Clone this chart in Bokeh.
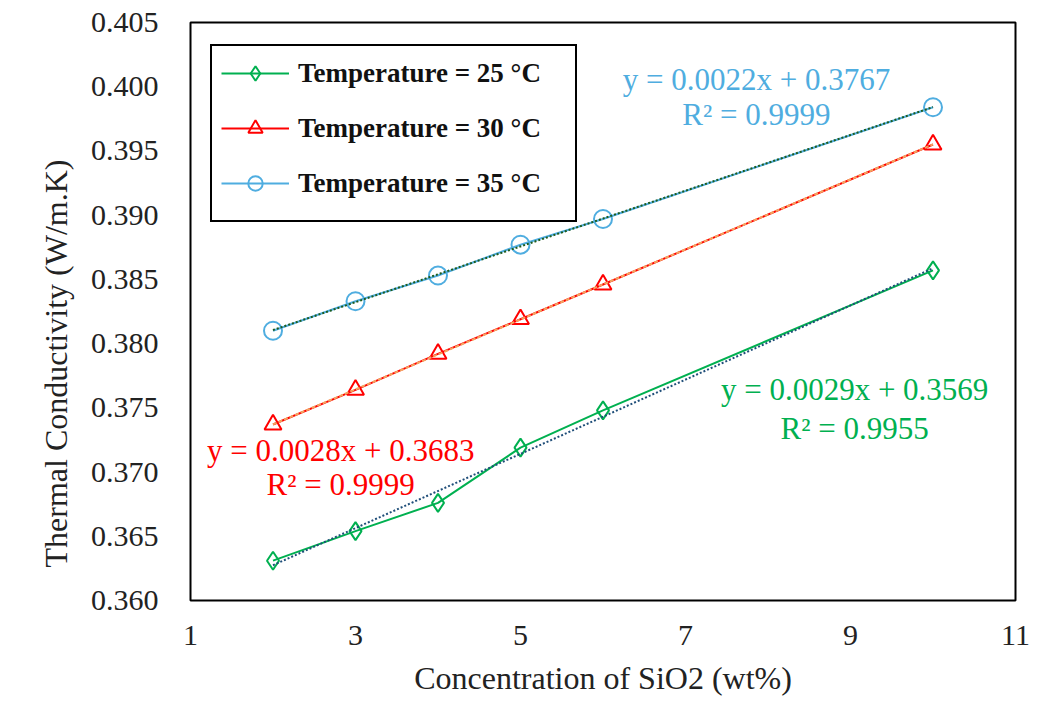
import numpy as np
from bokeh.plotting import figure
from bokeh.models import Range1d, FixedTicker, NumeralTickFormatter, Legend, LegendItem
from bokeh.core.properties import value
from bokeh.embed import file_html
from bokeh.resources import INLINE

# ---- data ----
conc = [2, 3, 4, 5, 6, 10]
t25 = [0.3631, 0.3654, 0.3676, 0.3719, 0.3748, 0.3857]
t30 = [0.3737, 0.3764, 0.3792, 0.3819, 0.3846, 0.3955]
t35 = [0.3810, 0.3833, 0.3853, 0.3877, 0.3897, 0.3984]

series_labels = ["Temperature = 25 °C", "Temperature = 30 °C", "Temperature = 35 °C"]
eq_text_25 = ["y = 0.0029x + 0.3569", "R² = 0.9955"]
eq_text_30 = ["y = 0.0028x + 0.3683", "R² = 0.9999"]
eq_text_35 = ["y = 0.0022x + 0.3767", "R² = 0.9999"]

x_ticks = [1, 3, 5, 7, 9, 11]
y_ticks = [0.360, 0.365, 0.370, 0.375, 0.380, 0.385, 0.390, 0.395, 0.400, 0.405]

FONT = "Liberation Serif"
GREEN = "#00B050"
RED = "#FF0000"
BLUE = "#4FADE0"

p = figure(width=1045, height=705, output_backend="svg", toolbar_location=None,
           x_range=Range1d(1, 11), y_range=Range1d(0.360, 0.405),
           min_border_left=190, min_border_right=30, min_border_top=22, min_border_bottom=105)

p.grid.visible = False
p.outline_line_color = "black"
p.outline_line_width = 2

for ax in (p.xaxis[0], p.yaxis[0]):
    ax.axis_line_color = None
    ax.major_tick_line_color = None
    ax.minor_tick_line_color = None
    ax.major_label_text_font = FONT
    ax.major_label_text_font_size = "30px"
    ax.major_label_text_color = "#222222"
    ax.axis_label_text_font = FONT
    ax.axis_label_text_font_size = "32px"
    ax.axis_label_text_font_style = "normal"
    ax.axis_label_text_color = "#222222"

p.xaxis.ticker = FixedTicker(ticks=x_ticks)
p.yaxis.ticker = FixedTicker(ticks=y_ticks)
p.yaxis.formatter = NumeralTickFormatter(format="0.000")
p.xaxis.axis_label = "Concentration of SiO2 (wt%)"
# trailing no-break spaces shift the visible title downward, as in the reference
p.yaxis.axis_label = "Thermal Conductivity (W/m.K)" + "\u00a0" * 13
p.yaxis.major_label_standoff = 26
p.xaxis.major_label_standoff = 19
p.yaxis.axis_label_standoff = 14
p.xaxis.axis_label_standoff = 12

items = []
specs = [
    (t25, GREEN, "diamond", 18, "#1F4E79", "2 2"),
    (t30, RED, "triangle", 17, "#F4A460", "4 2"),
    (t35, BLUE, "circle", 18, "#1E5C1E", "2 2"),
]
trend_specs = []
for (ys, col, mk, sz, tcol, tdash), lab in zip(specs, series_labels):
    lr = p.line(conc, ys, line_color=col, line_width=2)
    sr = p.scatter(conc, ys, marker=mk, size=sz, line_color=col, line_width=2, fill_color=None)
    items.append(LegendItem(label=lab, renderers=[lr, sr]))
    trend_specs.append((ys, tcol, tdash))

# linear trendlines (least squares on the data, as Excel does)
for ys, tcol, tdash in trend_specs:
    k, b = np.polyfit(conc, ys, 1)
    xs = [min(conc), max(conc)]
    p.line(xs, [k * xx + b for xx in xs], line_color=tcol, line_width=2, line_dash=tdash)

# trendline equations
def eq(x, y1, y2, lines, col):
    p.text(x=[x, x], y=[y1, y2], text=lines, text_color=col, text_font=value(FONT),
           text_font_size="31px", text_align="center", text_baseline="middle")

eq(7.86, 0.4006, 0.3978, eq_text_35, BLUE)
eq(2.82, 0.3717, 0.3690, eq_text_30, RED)
eq(9.05, 0.3764, 0.3734, eq_text_25, GREEN)

legend = Legend(items=items, location=(20, 378))
legend.label_text_font = FONT
legend.label_text_font_style = "bold"
legend.label_text_font_size = "27px"
legend.label_text_color = "#111111"
legend.border_line_color = "black"
legend.border_line_alpha = 1.0
legend.border_line_width = 2
legend.glyph_width = 68
legend.glyph_height = 36
legend.label_height = 36
legend.label_width = 268
legend.spacing = 19
legend.padding = 9
legend.label_standoff = 9
legend.margin = 0
legend.title = " "
legend.title_location = "below"
legend.title_text_font_size = "9px"
legend.title_standoff = 0
legend.background_fill_color = "white"
legend.background_fill_alpha = 1
p.add_layout(legend)

open("out.html", "w").write(file_html(p, INLINE))
